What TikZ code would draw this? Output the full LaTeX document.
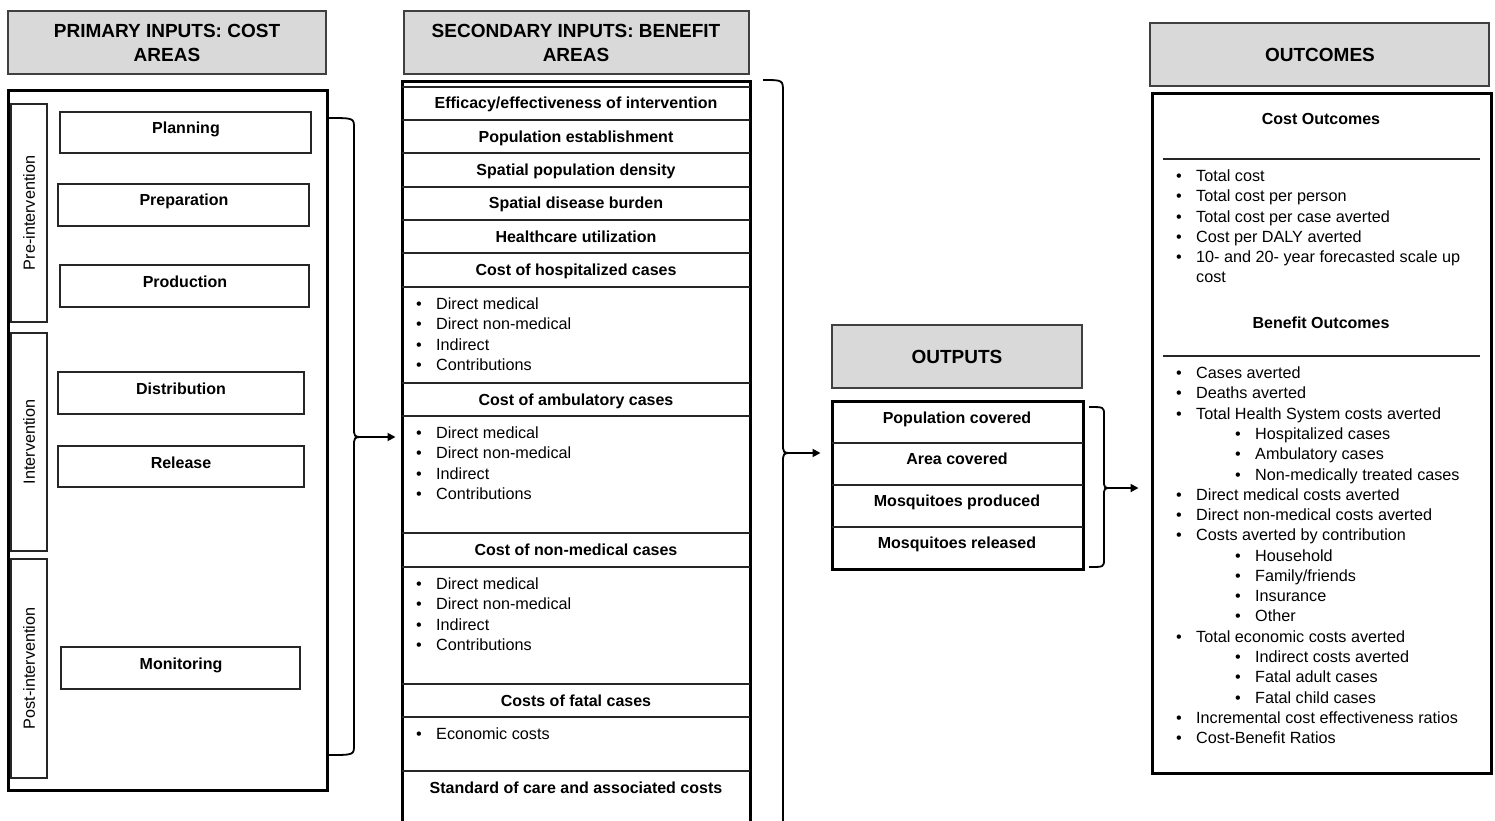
\documentclass[tikz,border=0pt]{standalone}
\usepackage{fontspec}
\setmainfont{Liberation Sans}
\usetikzlibrary{fit,arrows.meta}
\begin{document}
\begin{tikzpicture}[x=1pt,y=-1pt,
  hdr/.style={draw=black!75, line width=1.4pt, fill=black!15, inner sep=0pt},
  htxt/.style={align=center, font=\fontsize{19}{24}\selectfont\bfseries, inner sep=0pt},
  frame/.style={draw=black, line width=3pt, inner sep=0pt},
  cell/.style={draw=black!85, line width=1.4pt, inner sep=0pt},
  btxt/.style={font=\fontsize{16}{20}\selectfont\bfseries, anchor=base, yshift=-5.6pt, inner sep=0pt},
  rtxt/.style={font=\fontsize{16.2}{20}\selectfont, anchor=base west, yshift=-5.6pt, inner sep=0pt},
  vtxt/.style={font=\fontsize{16.2}{20}\selectfont, rotate=90, inner sep=0pt},
  rowrule/.style={draw=black!85, line width=1.4pt},
  brc/.style={draw=black, line width=1.8pt},
  arr/.style={draw=black, line width=1.8pt, -{Triangle[length=8pt,width=8pt]}},
]
\useasboundingbox (0,0) rectangle (1495,820);
\newcommand\bul[1]{\makebox[20pt][l]{\textbullet}#1}

% ---------------- Primary inputs ----------------
\node[hdr, fit={(8,11) (326,74)}] (H1) {};
\node[htxt] (H1t) at (167,43) {PRIMARY INPUTS: COST\\AREAS};
\node[frame, fit={(8,90) (327,790)}] (L) {};
\node[cell, fit={(11,104) (47,322)}] (P1) {};
\node[cell, fit={(11,333) (47,551)}] (P2) {};
\node[cell, fit={(11,559) (47,778)}] (P3) {};
\node[vtxt] (P1t) at (P1.center) {Pre-intervention};
\node[vtxt] (P2t) at (P2.center) {Intervention};
\node[vtxt] (P3t) at (P3.center) {Post-intervention};

\node[cell, fit={(60,112) (311,153)}] (I1) {};
\node[cell, fit={(58,184) (309,226)}] (I2) {};
\node[cell, fit={(60,265) (309,307)}] (I3) {};
\node[cell, fit={(58,372) (304,414)}] (I4) {};
\node[cell, fit={(58,446) (304,487)}] (I5) {};
\node[cell, fit={(61,647) (300,689)}] (I6) {};
\node[btxt] (I1t) at (186,128) {Planning};
\node[btxt] (I2t) at (184,200) {Preparation};
\node[btxt] (I3t) at (185,282) {Production};
\node[btxt] (I4t) at (181,389) {Distribution};
\node[btxt] (I5t) at (181,463) {Release};
\node[btxt] (I6t) at (181,664) {Monitoring};

% ---------------- Secondary inputs ----------------
\node[hdr, fit={(404,11) (749,74)}] (H2) {};
\node[htxt] (H2t) at (576,43) {SECONDARY INPUTS: BENEFIT\\AREAS};
\node[frame, fit={(402,81) (750,840)}] (M) {};
\foreach \yy in {87,120,153,187,220,253,287,383,416,533,567,684,717,771}
  \draw[rowrule] (402,\yy) -- (750,\yy);
\node[btxt] (S1) at (576,103) {Efficacy/effectiveness of intervention};
\node[btxt] (S2) at (576,137) {Population establishment};
\node[btxt] (S3) at (576,170) {Spatial population density};
\node[btxt] (S4) at (576,203) {Spatial disease burden};
\node[btxt] (S5) at (576,237) {Healthcare utilization};
\node[btxt] (S6) at (576,270) {Cost of hospitalized cases};
\node[btxt] (S7) at (576,400) {Cost of ambulatory cases};
\node[btxt] (S8) at (576,550) {Cost of non-medical cases};
\node[btxt] (S9) at (576,701) {Costs of fatal cases};
\node[btxt] (S10) at (576,788) {Standard of care and associated costs};
\foreach \t [count=\i from 0] in {Direct medical,Direct non-medical,Indirect,Contributions}{
  \node[rtxt] (ha\i) at (416,304+20.2*\i) {\bul{\t}};
  \node[rtxt] (am\i) at (416,433+20.2*\i) {\bul{\t}};
  \node[rtxt] (nm\i) at (416,584+20.2*\i) {\bul{\t}};
}
\node[rtxt] (fc0) at (416,734) {\bul{Economic costs}};

% ---------------- Outputs ----------------
\node[hdr, fit={(832,325) (1082,388)}] (H3) {};
\node[htxt] (H3t) at (957,357) {OUTPUTS};
\node[frame, fit={(832,401) (1083,569)}] (O) {};
\foreach \yy in {443,485,527}
  \draw[rowrule] (832,\yy) -- (1083,\yy);
\node[btxt] (O1) at (957,418) {Population covered};
\node[btxt] (O2) at (957,459) {Area covered};
\node[btxt] (O3) at (957,501) {Mosquitoes produced};
\node[btxt] (O4) at (957,543) {Mosquitoes released};

% ---------------- Outcomes ----------------
\node[hdr, fit={(1150,23) (1489,86)}] (H4) {};
\node[htxt] (H4t) at (1320,55) {OUTCOMES};
\node[frame, fit={(1152,93) (1491,773)}] (R) {};
\node[btxt] (C1) at (1321,119) {Cost Outcomes};
\draw[rowrule] (1163,159) -- (1480,159);
\foreach \t [count=\i from 0] in {Total cost,Total cost per person,Total cost per case averted,Cost per DALY averted,10- and 20- year forecasted scale up}
  \node[rtxt] (co\i) at (1176,176+20.2*\i) {\bul{\t}};
\node[rtxt] (co5) at (1196,277) {cost};
\node[btxt] (C2) at (1321,323) {Benefit Outcomes};
\draw[rowrule] (1163,356) -- (1480,356);
\foreach \lev/\t [count=\i from 0] in {0/Cases averted,0/Deaths averted,0/Total Health System costs averted,1/Hospitalized cases,1/Ambulatory cases,1/Non-medically treated cases,0/Direct medical costs averted,0/Direct non-medical costs averted,0/Costs averted by contribution,1/Household,1/{Family/friends},1/Insurance,1/Other,0/Total economic costs averted,1/Indirect costs averted,1/Fatal adult cases,1/Fatal child cases,0/Incremental cost effectiveness ratios,0/Cost-Benefit Ratios}{
  \pgfmathsetmacro\bx{1176+59*\lev}
  \node[rtxt] (bo\i) at (\bx,373+20.28*\i) {\bul{\t}};
}

% ---------------- Braces and arrows ----------------
\coordinate (b1t) at (328,118);
\coordinate (b1b) at (328,755);
\coordinate (b1tip) at (363,437);
\draw[brc] (b1t) .. controls (354,118) .. (354,128) -- (354,427) .. controls (354,437) .. (b1tip)
  .. controls (354,437) .. (354,447) -- (354,745) .. controls (354,755) .. (b1b);
\draw[arr, shorten >=5pt] (b1tip) -- (b1tip -| M.west);

\coordinate (b2t) at (763,80);
\coordinate (b2b) at (783,840);
\coordinate (b2tip) at (792,453);
\draw[brc] (b2t) .. controls (783,80) .. (783,92) -- (783,443) .. controls (783,453) .. (b2tip)
  .. controls (783,453) .. (783,463) -- (b2b);
\draw[arr, shorten >=10pt] (b2tip) -- (b2tip -| O.west);

\coordinate (b3t) at (1089,407);
\coordinate (b3b) at (1089,567);
\coordinate (b3tip) at (1112,488);
\draw[brc] (b3t) .. controls (1104,407) .. (1104,415) -- (1104,480) .. controls (1104,488) .. (b3tip)
  .. controls (1104,488) .. (1104,496) -- (1104,559) .. controls (1104,567) .. (b3b);
\draw[arr, shorten >=12pt] (b3tip) -- (b3tip -| R.west);
\end{tikzpicture}
\end{document}
